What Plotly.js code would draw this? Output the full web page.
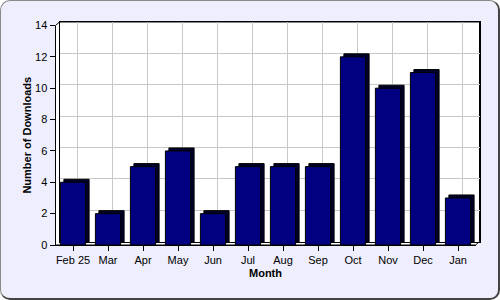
<!DOCTYPE html>
<html><head><meta charset="utf-8">
<script src="https://cdn.plot.ly/plotly-3.0.1.min.js"></script>
<style>
html,body{margin:0;padding:0;background:#fff;}
#wrap{position:relative;width:500px;height:300px;}
#frame{position:absolute;left:0;top:0;width:500px;height:300px;box-sizing:border-box;background:#eeeefc;border-radius:10px;border-top:1px solid #8a8a8a;border-left:1px solid #8a8a8a;border-right:2px solid #444;border-bottom:2px solid #444;}
#chart{position:absolute;left:0;top:0;width:500px;height:300px;}
</style></head><body>
<div id="wrap"><div id="frame"></div><div id="chart"></div></div>
<script>
// ---- data ----
const months = ['Feb 25','Mar','Apr','May','Jun','Jul','Aug','Sep','Oct','Nov','Dec','Jan'];
const downloads = [4,2,5,6,2,5,5,5,12,10,11,3];
const yMax = 14;
const yStep = 2;

// ---- geometry (pixels) ----
const W = 500, H = 300;
const fx0 = 55.5, fx1 = 475.5, fyTop = 25.5, fyBot = 245; // front plane
const wdx = 4, wdy = 3.5;   // back wall offset
const bdx = 3.5, bdy = 3;   // bar depth
const barW = 0.72;
const px = x => x / W, py = y => (H - y) / H;
const catPx = (fx1 - fx0) / months.length;
const unitPx = (fyBot - fyTop) / yMax;

const bx0 = fx0 + wdx, bx1 = fx1 + wdx, byTop = fyTop - wdy, byBot = fyBot - wdy;

const font = {family: 'Liberation Sans, Arial, sans-serif', size: 11, color: '#000'};

// invisible trace so the back-wall subplot (grid) is drawn
const wall = {
  type: 'scatter', mode: 'markers', x: [0], y: [0], xaxis: 'x', yaxis: 'y',
  marker: {opacity: 0}, hoverinfo: 'skip', showlegend: false
};
const shadow = {
  type: 'bar', x: months, y: downloads, base: bdy / unitPx,
  offset: -barW / 2 + bdx / catPx, width: barW,
  marker: {color: '#000028', line: {color: '#000', width: 1}},
  xaxis: 'x2', yaxis: 'y2', hoverinfo: 'skip', showlegend: false
};
const front = {
  type: 'bar', x: months, y: downloads,
  offset: -barW / 2, width: barW,
  marker: {color: '#000080', line: {color: '#000', width: 1}},
  xaxis: 'x2', yaxis: 'y2', showlegend: false
};

const P = (x, y) => px(x).toFixed(5) + ',' + py(y).toFixed(5);
const wallPath = 'M' + P(fx0, fyBot) + ' L' + P(fx0, fyTop) + ' L' + P(bx0, byTop) +
  ' L' + P(bx1, byTop) + ' L' + P(bx1, byBot) + ' L' + P(fx1, fyBot) + ' Z';

const layout = {
  width: W, height: H,
  margin: {l: 0, r: 0, t: 0, b: 0},
  paper_bgcolor: 'rgba(0,0,0,0)',
  plot_bgcolor: 'rgba(0,0,0,0)',
  font: font,
  barmode: 'overlay',
  showlegend: false,
  shapes: [
    {type: 'path', xref: 'paper', yref: 'paper', path: wallPath,
     fillcolor: '#fff', line: {color: '#000', width: 1}, layer: 'below'}
  ],
  // back wall
  xaxis: {domain: [px(bx0), px(bx1)], anchor: 'y', range: [-0.5, months.length - 0.5],
    type: 'linear', tick0: 0, dtick: 1, showgrid: true, gridcolor: '#c8c8c8', gridwidth: 1,
    showticklabels: false, ticks: '', zeroline: false,
    showline: true, mirror: true, linecolor: '#000', linewidth: 1, fixedrange: true},
  yaxis: {domain: [py(byBot), py(byTop)], anchor: 'x', range: [0, yMax], dtick: yStep,
    showgrid: true, gridcolor: '#c8c8c8', gridwidth: 1, showticklabels: false, ticks: '',
    zeroline: false, showline: true, mirror: true, linecolor: '#000', linewidth: 1, fixedrange: true},
  // front
  xaxis2: {domain: [px(fx0), px(fx1)], anchor: 'y2', type: 'category', categoryarray: months,
    categoryorder: 'array', range: [-0.5, months.length - 0.5],
    showgrid: false, zeroline: false, showline: true, linecolor: '#000', linewidth: 1,
    ticks: 'outside', ticklen: 5, tickcolor: '#000', tickfont: font,
    title: {text: 'Month', font: {family: font.family, size: 11, color: '#000', weight: 'bold'}, standoff: 4},
    fixedrange: true},
  yaxis2: {domain: [py(fyBot), py(fyTop)], anchor: 'x2', range: [0, yMax], dtick: yStep,
    showgrid: false, zeroline: false, showline: true, linecolor: '#000', linewidth: 1,
    ticks: 'outside', ticklen: 5, tickcolor: '#000', tickfont: font,
    title: {text: 'Number of Downloads', font: {family: font.family, size: 11, color: '#000', weight: 'bold'}, standoff: 1},
    fixedrange: true}
};

Plotly.newPlot('chart', [wall, shadow, front], layout, {displayModeBar: false, staticPlot: true});
</script>
</body></html>
